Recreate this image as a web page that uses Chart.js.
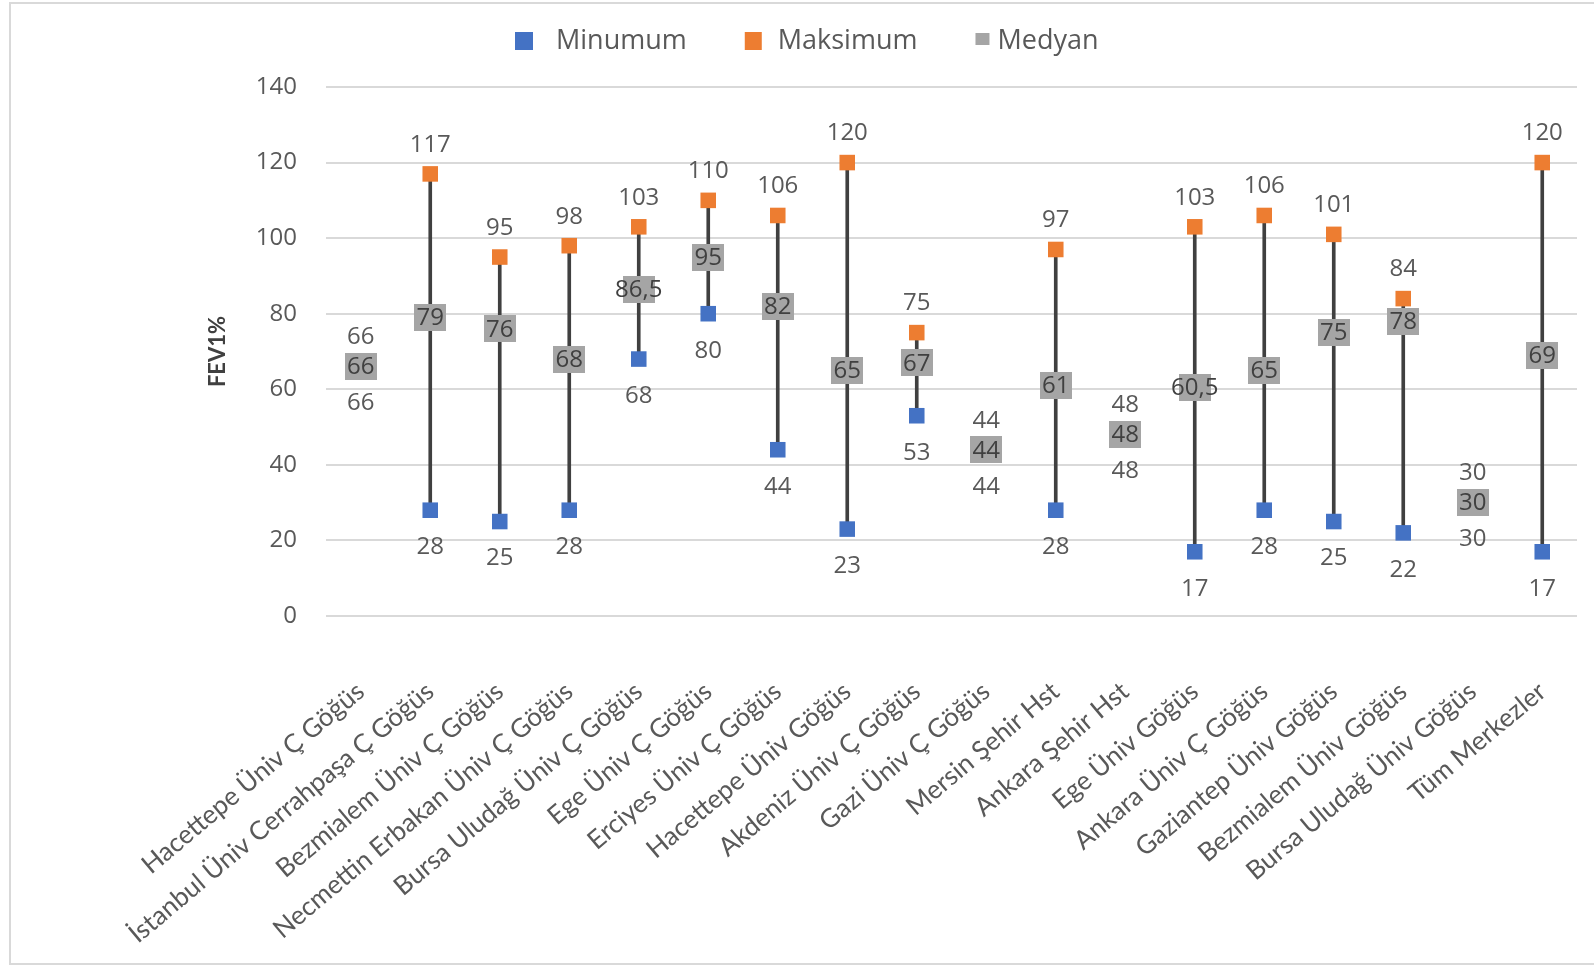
<!DOCTYPE html>
<html>
<head>
<meta charset="utf-8">
<script src="https://cdn.jsdelivr.net/npm/chart.js@4.4.0/dist/chart.umd.min.js"></script>
<style>
  html, body { margin: 0; padding: 0; background: #fff; }
  #box { width: 1594px; height: 966px; }
</style>
</head>
<body>
<div id="box"><canvas id="chart"></canvas></div>
<script>
// data
const categories = [
  'Hacettepe Üniv Ç Göğüs', 'İstanbul Üniv Cerrahpaşa Ç Göğüs', 'Bezmialem Üniv Ç Göğüs',
  'Necmettin Erbakan Üniv Ç Göğüs', 'Bursa Uludağ Üniv Ç Göğüs', 'Ege Üniv Ç Göğüs',
  'Erciyes Üniv Ç Göğüs', 'Hacettepe Üniv Göğüs', 'Akdeniz Üniv Ç Göğüs', 'Gazi Üniv Ç Göğüs',
  'Mersin Şehir Hst', 'Ankara Şehir Hst', 'Ege Üniv Göğüs', 'Ankara Üniv Ç Göğüs',
  'Gaziantep Üniv Göğüs', 'Bezmialem Üniv Göğüs', 'Bursa Uludağ Üniv Göğüs', 'Tüm Merkezler'
];
const minVals = [66, 28, 25, 28, 68, 80, 44, 23, 53, 44, 28, 48, 17, 28, 25, 22, 30, 17];
const maxVals = [66, 117, 95, 98, 103, 110, 106, 120, 75, 44, 97, 48, 103, 106, 101, 84, 30, 120];
const medVals = [66, 79, 76, 68, 86.5, 95, 82, 65, 67, 44, 61, 48, 60.5, 65, 75, 78, 30, 69];
const seriesNames = ['Minumum', 'Maksimum', 'Medyan'];
const yMin = 0;
const yMax = 140;
const yStep = 20;

const BLUE = '#4472C4';
const ORANGE = '#ED7D31';
const GRAY = '#A5A5A5';
const TEXT = '#595959';

function fmt(v) {
  return String(v).replace('.', ',');
}

function boxImage(w, h, color) {
  const c = document.createElement('canvas');
  c.width = w;
  c.height = h;
  const g = c.getContext('2d');
  g.fillStyle = color;
  g.fillRect(0, 0, w, h);
  return c;
}

// light frame around the whole picture
const framePlugin = {
  id: 'frame',
  beforeDraw(chart) {
    const ctx = chart.ctx;
    ctx.save();
    ctx.fillStyle = '#fff';
    ctx.fillRect(0, 0, chart.width, chart.height);
    ctx.strokeStyle = '#D9D9D9';
    ctx.lineWidth = 2;
    ctx.strokeRect(10, 3, chart.width + 10, chart.height - 5);
    ctx.restore();
  }
};

// value labels: max above, min below, median on its gray box
const labelPlugin = {
  id: 'valueLabels',
  afterDatasetsDraw(chart) {
    const ctx = chart.ctx;
    const x = chart.scales.x;
    const y = chart.scales.y;
    ctx.save();
    ctx.font = '24px "Open Sans"';
    ctx.textAlign = 'center';
    ctx.textBaseline = 'middle';
    categories.forEach((c, i) => {
      const px = x.getPixelForValue(i);
      ctx.fillStyle = TEXT;
      ctx.fillText(fmt(maxVals[i]), px, y.getPixelForValue(maxVals[i]) - 29);
      ctx.fillText(fmt(minVals[i]), px, y.getPixelForValue(minVals[i]) + 37);
      ctx.fillStyle = '#404040';
      ctx.fillText(fmt(medVals[i]), px, y.getPixelForValue(medVals[i]) + 1);
    });
    ctx.restore();
  }
};

// legend in the Excel style (different marker sizes)
const legendMarks = [
  { w: 18, h: 18, gap: 23, color: BLUE },
  { w: 17, h: 18, gap: 16, color: ORANGE },
  { w: 14, h: 12, gap: 8, color: GRAY }
];
const legendPlugin = {
  id: 'xlLegend',
  afterDraw(chart) {
    const ctx = chart.ctx;
    const cy = 41;
    let cx = 515;
    ctx.save();
    ctx.font = '27px "Open Sans"';
    ctx.textBaseline = 'middle';
    ctx.textAlign = 'left';
    seriesNames.forEach((name, i) => {
      const m = legendMarks[i];
      ctx.fillStyle = m.color;
      ctx.fillRect(cx, cy - m.h / 2 + (i === 2 ? -2 : 0), m.w, m.h);
      cx += m.w + m.gap;
      ctx.fillStyle = TEXT;
      ctx.fillText(name, cx, cy);
      cx += ctx.measureText(name).width + 58;
    });
    ctx.restore();
  }
};

const ctx = document.getElementById('chart');

new Chart(ctx, {
  type: 'bar',
  data: {
    labels: categories,
    datasets: [
      {
        type: 'bar',
        label: 'range',
        data: minVals.map((v, i) => [v, maxVals[i]]),
        backgroundColor: '#404040',
        barThickness: 3,
        order: 4
      },
      {
        type: 'line',
        label: seriesNames[0],
        data: minVals,
        showLine: false,
        pointStyle: 'rect',
        pointRadius: 11,
        pointBackgroundColor: BLUE,
        pointBorderColor: BLUE,
        pointBorderWidth: 0,
        order: 3
      },
      {
        type: 'line',
        label: seriesNames[1],
        data: maxVals,
        showLine: false,
        pointStyle: 'rect',
        pointRadius: 11,
        pointBackgroundColor: ORANGE,
        pointBorderColor: ORANGE,
        pointBorderWidth: 0,
        order: 2
      },
      {
        type: 'line',
        label: seriesNames[2],
        data: medVals,
        showLine: false,
        pointStyle: boxImage(32, 27, GRAY),
        pointRadius: 14,
        order: 1
      }
    ]
  },
  options: {
    responsive: true,
    maintainAspectRatio: false,
    animation: false,
    layout: {
      padding: { left: 201, right: 17, top: 87, bottom: 0 }
    },
    plugins: {
      legend: { display: false },
      tooltip: { enabled: false }
    },
    scales: {
      x: {
        offset: true,
        grid: { display: false },
        border: { display: false },
        ticks: {
          autoSkip: false,
          minRotation: 40,
          maxRotation: 40,
          padding: 52,
          color: TEXT,
          font: { family: 'Lato', size: 26 }
        },
        afterFit(scale) {
          scale.height = 350;
          scale.paddingLeft = 0;
          scale.paddingRight = 0;
        }
      },
      y: {
        min: yMin,
        max: yMax,
        border: { display: false },
        grid: { color: '#D9D9D9', lineWidth: 2, drawTicks: false },
        ticks: {
          stepSize: yStep,
          padding: 29,
          color: TEXT,
          font: { family: 'Open Sans', size: 24 }
        },
        title: {
          display: true,
          text: 'FEV1%',
          color: '#404040',
          padding: { top: 4, bottom: 0 },
          font: { family: 'Lato', size: 22, weight: 'bold' }
        },
        afterFit(scale) {
          scale.width = 125;
        }
      }
    }
  },
  plugins: [framePlugin, labelPlugin, legendPlugin]
});
</script>
</body>
</html>
